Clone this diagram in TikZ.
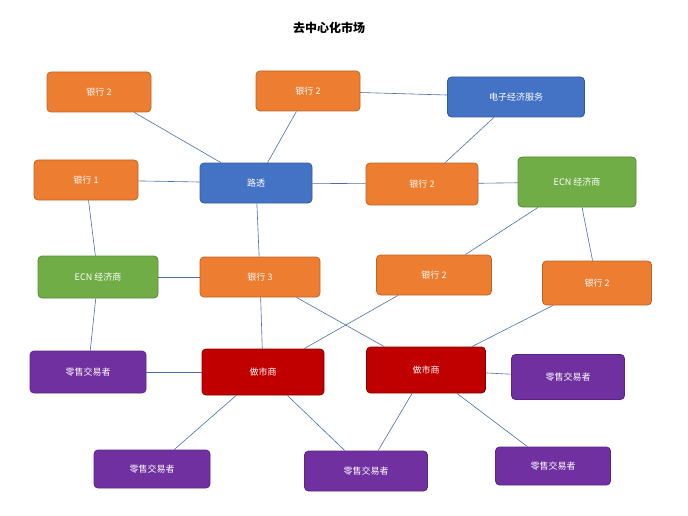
\documentclass[tikz,border=0pt]{standalone}
\usepackage{fontspec}
\setmainfont{Noto Sans CJK SC}
\usetikzlibrary{positioning}
\definecolor{orng}{HTML}{ED7D31}
\definecolor{blu}{HTML}{4472C4}
\definecolor{grn}{HTML}{70AD47}
\definecolor{purp}{HTML}{7030A0}
\definecolor{dred}{HTML}{C00000}
\definecolor{edgeblue}{HTML}{4A6FA5}
\begin{document}
\begin{tikzpicture}[x=1pt,y=-1pt,
		box/.style={rectangle,rounded corners=4pt,draw,thick,text=white,font=\small},
		bank node/.style={box,fill=orng,draw=orng!80!black,minimum width=104pt,minimum height=40pt},
		blue node/.style={box,fill=blu,draw=blu!80!black,minimum width=114pt,minimum height=40pt},
		ecn node/.style={box,fill=grn,draw=grn!80!black,minimum width=118pt,minimum height=42pt},
		trader node/.style={box,fill=purp,draw=purp!80!black,minimum width=116pt,minimum height=40pt},
		maker node/.style={box,fill=dred,draw=dred!70!black,minimum width=120pt,minimum height=46pt},
		link/.style={edgeblue,line width=0.6pt}]
		\useasboundingbox (0,0) rectangle (688,516);
		
		\node[font=\large\bfseries] (title) at (329,28) {去中心化市场};
		
		\node[bank node] (bank2a) at (99,92) {银行 2};
		\node[bank node] (bank2b) at (308,91) {银行 2};
		\node[blue node,minimum width=137pt] (elec) at (516,97) {电子经济服务};
		\node[bank node] (bank1) at (86,180) {银行 1};
		\node[blue node,minimum width=112pt] (reuters) at (256,183) {路透};
		\node[bank node,minimum width=112pt,minimum height=42pt] (bank2c) at (422,184) {银行 2};
		\node[ecn node,minimum height=50pt] (ecn1) at (577,182) {ECN 经济商};
		\node[ecn node,minimum width=120pt] (ecn2) at (98,277) {ECN 经济商};
		\node[bank node,minimum width=120pt] (bank3) at (260,277) {银行 3};
		\node[bank node,minimum width=115pt] (bank2d) at (434,275) {银行 2};
		\node[bank node,minimum width=109pt,minimum height=44pt] (bank2e) at (597,283) {银行 2};
		\node[trader node,minimum height=42pt] (trader1) at (88,372) {零售交易者};
		\node[maker node,minimum width=122pt] (maker1) at (263,372) {做市商};
		\node[maker node,minimum width=119pt] (maker2) at (426,370) {做市商};
		\node[trader node,minimum width=113pt,minimum height=45pt] (trader2) at (568,377) {零售交易者};
		\node[trader node,minimum height=38pt] (trader3) at (152,469) {零售交易者};
		\node[trader node,minimum width=123pt] (trader4) at (366,471) {零售交易者};
		\node[trader node,minimum width=115pt,minimum height=38pt] (trader5) at (553,466) {零售交易者};
		
		\path[link]
		(bank2a) edge (reuters)
		(bank2b) edge (reuters)
		(bank2b) edge (elec)
		(elec) edge (bank2c)
		(bank1) edge (reuters)
		(reuters) edge (bank2c)
		(bank2c) edge (ecn1)
		(bank1) edge (ecn2)
		(ecn1) edge (bank2d)
		(ecn1) edge (bank2e)
		(reuters) edge (bank3)
		(ecn2) edge (bank3)
		(ecn2) edge (trader1)
		(bank3) edge (maker1)
		(bank3) edge (maker2)
		(bank2d) edge (maker1)
		(bank2e) edge (maker2)
		(trader1) edge (maker1)
		(maker2) edge (trader2)
		(maker1) edge (trader3)
		(maker1) edge (trader4)
		(maker2) edge (trader4)
		(maker2) edge (trader5);
\end{tikzpicture}
\end{document}
